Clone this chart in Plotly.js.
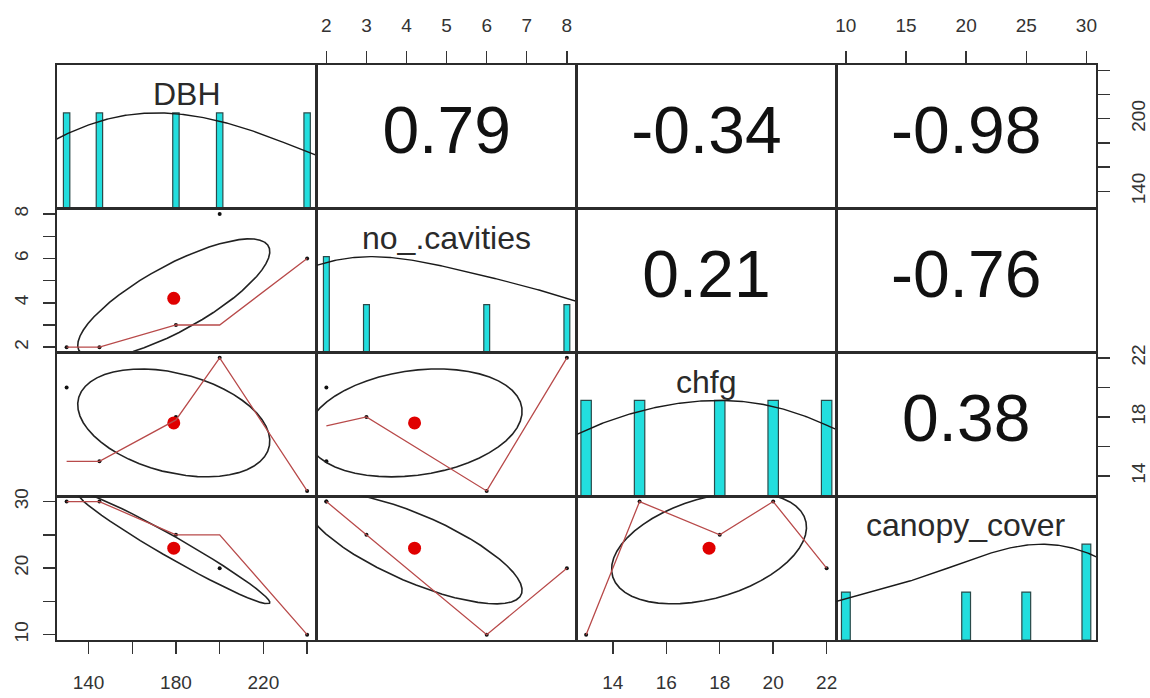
<!DOCTYPE html>
<html><head><meta charset="utf-8">
<script src="https://cdn.plot.ly/plotly-3.0.1.min.js"></script>
<style>html,body{margin:0;padding:0;background:#fff}#chart{width:1150px;height:698px}</style>
</head><body><div id="chart"></div>
<script>
// ---- data ----
const varNames = ['DBH', 'no_.cavities', 'chfg', 'canopy_cover'];
const DBH = [130, 145, 180, 200, 240];
const noCavities = [2, 2, 3, 8, 6];
const chfg = [20, 15, 18, 22, 13];
const canopyCover = [30, 30, 25, 20, 10];
// correlations shown in the upper panels: (1,2),(1,3),(1,4),(2,3),(2,4),(3,4)
const corrLabels = ['0.79', '-0.34', '-0.98', '0.21', '-0.76', '0.38'];
// red smoother values, ordered by increasing x
const smoothDBH_cav = [2, 2, 3, 3, 6];
const smoothDBH_chfg = [15, 15, 17.8, 22, 13];
const smoothCav_chfg = [17.4, 17.4, 18, 13, 22];
const smoothDBH_canopy = [30, 30, 25, 25, 10];
const smoothCav_canopy = [30, 30, 25, 10, 20];
const smoothChfg_canopy = [10, 30, 25, 30, 20];
// tick marks and labels
const ticksDBH = [140, 160, 180, 200, 220, 240];
const ticksCav = [2, 3, 4, 5, 6, 7, 8];
const ticksChfg = [14, 16, 18, 20, 22];
const ticksCanopy = [10, 15, 20, 25, 30];
const labelsDBH_bottom = ['140', '', '180', '', '220', ''];
const labelsDBH_right = ['140', '', '', '200', '', ''];
const labelsCav_top = ['2', '3', '4', '5', '6', '7', '8'];
const labelsCav_left = ['2', '', '4', '', '6', '', '8'];
const labelsChfg_bottom = ['14', '16', '18', '20', '22'];
const labelsChfg_right = ['14', '', '18', '', '22'];
const labelsCanopy_top = ['10', '15', '20', '25', '30'];
const labelsCanopy_left = ['10', '', '20', '', '30'];

// ---- helpers ----
const vars = [DBH, noCavities, chfg, canopyCover];
const FONT = '"Liberation Sans", Arial, Helvetica, sans-serif';
const mean = a => a.reduce((s, v) => s + v, 0) / a.length;
const sd = a => { const m = mean(a); return Math.sqrt(a.reduce((s, v) => s + (v - m) * (v - m), 0) / (a.length - 1)); };
const cor = (a, b) => { const ma = mean(a), mb = mean(b); let sab = 0, saa = 0, sbb = 0;
  for (let i = 0; i < a.length; i++) { sab += (a[i] - ma) * (b[i] - mb); saa += (a[i] - ma) ** 2; sbb += (b[i] - mb) ** 2; }
  return sab / Math.sqrt(saa * sbb); };
const quant = (a, p) => { const s = [...a].sort((x, y) => x - y); const h = (s.length - 1) * p; const lo = Math.floor(h); return s[lo] + (h - lo) * ((s[lo + 1] ?? s[lo]) - s[lo]); };
const bwNrd = a => { const h = (quant(a, 0.75) - quant(a, 0.25)) / 1.34; return 1.06 * Math.min(sd(a), h) * Math.pow(a.length, -0.2); };
const ext = a => { const mn = Math.min(...a), mx = Math.max(...a), d = 0.04 * (mx - mn); return [mn - d, mx + d]; };
const sortedX = a => [...a].sort((x, y) => x - y);

const smooth = {};
smooth['1,0'] = smoothDBH_cav; smooth['2,0'] = smoothDBH_chfg; smooth['2,1'] = smoothCav_chfg;
smooth['3,0'] = smoothDBH_canopy; smooth['3,1'] = smoothCav_canopy; smooth['3,2'] = smoothChfg_canopy;
const corrIdx = {'0,1': 0, '0,2': 1, '0,3': 2, '1,2': 3, '1,3': 4, '2,3': 5};

const axTicks = [
  {vals: ticksDBH, lab: {bottom: labelsDBH_bottom, right: labelsDBH_right}},
  {vals: ticksCav, lab: {top: labelsCav_top, left: labelsCav_left}},
  {vals: ticksChfg, lab: {bottom: labelsChfg_bottom, right: labelsChfg_right}},
  {vals: ticksCanopy, lab: {top: labelsCanopy_top, left: labelsCanopy_left}}
];

const traces = [];
const layout = {
  width: 1150, height: 698,
  margin: {l: 57, r: 54, t: 65, b: 58, pad: 0},
  paper_bgcolor: '#fff', plot_bgcolor: '#fff',
  showlegend: false, hovermode: false,
  font: {family: FONT, color: '#222'},
  annotations: []
};

const N = 4;
for (let i = 0; i < N; i++) {
  for (let j = 0; j < N; j++) {
    const k = i * N + j + 1;
    const xs = k === 1 ? '' : String(k);
    const xa = 'x' + xs, ya = 'y' + xs;
    const xRange = ext(vars[j]);
    const yRange = i === j ? [0, 1.5] : ext(vars[i]);

    const xaxis = {
      domain: [j / N, (j + 1) / N], range: xRange, anchor: ya,
      showgrid: false, zeroline: false, showline: true, mirror: true,
      linecolor: '#2b2b2b', linewidth: 1.6, ticks: '', showticklabels: false, fixedrange: true
    };
    const yaxis = {
      domain: [1 - (i + 1) / N, 1 - i / N], range: yRange, anchor: xa,
      showgrid: false, zeroline: false, showline: true, mirror: true,
      linecolor: '#2b2b2b', linewidth: 1.6, ticks: '', showticklabels: false, fixedrange: true
    };
    const tickStyle = {ticks: 'outside', ticklen: 12, tickwidth: 1.4, tickcolor: '#333',
      showticklabels: true, tickfont: {family: FONT, size: 19, color: '#333'}, tickmode: 'array'};
    if (i === 0 && (j === 1 || j === 3)) {
      Object.assign(xaxis, tickStyle, {side: 'top', tickvals: axTicks[j].vals, ticktext: axTicks[j].lab.top, ticklabelstandoff: 12});
    }
    if (i === N - 1 && (j === 0 || j === 2)) {
      Object.assign(xaxis, tickStyle, {side: 'bottom', tickvals: axTicks[j].vals, ticktext: axTicks[j].lab.bottom, ticklabelstandoff: 13});
    }
    if (j === N - 1 && (i === 0 || i === 2)) {
      Object.assign(yaxis, tickStyle, {side: 'right', tickvals: axTicks[i].vals, ticktext: axTicks[i].lab.right, tickangle: -90, ticklabelstandoff: 13});
    }
    if (j === 0 && (i === 1 || i === 3)) {
      Object.assign(yaxis, tickStyle, {side: 'left', tickvals: axTicks[i].vals, ticktext: axTicks[i].lab.left, tickangle: -90, ticklabelstandoff: 8});
    }
    layout['xaxis' + xs] = xaxis;
    layout['yaxis' + xs] = yaxis;

    if (i === j) {
      // histogram bars (counts / max) and scaled density
      const v = vars[i];
      const uniq = sortedX([...new Set(v)]);
      const counts = uniq.map(u => v.filter(t => t === u).length);
      const mx = Math.max(...counts);
      let minDiff = Infinity;
      for (let q = 1; q < uniq.length; q++) minDiff = Math.min(minDiff, uniq[q] - uniq[q - 1]);
      const inter = minDiff * (uniq.length - 1) / 41;
      traces.push({type: 'bar', x: uniq, y: counts.map(c => c / mx), width: uniq.map(() => 2 * inter),
        xaxis: xa, yaxis: ya, marker: {color: '#22dede', line: {color: '#2a4a4a', width: 1.2}}, hoverinfo: 'skip'});
      const bw = 1.2 * bwNrd(v);
      const lo = Math.min(...v) - 3 * bw, hi = Math.max(...v) + 3 * bw;
      const gx = [], gy = [];
      for (let g = 0; g < 512; g++) {
        const x = lo + (hi - lo) * g / 511;
        let s = 0; v.forEach(t => { s += Math.exp(-0.5 * ((x - t) / bw) ** 2); });
        gx.push(x); gy.push(s);
      }
      const gmax = Math.max(...gy);
      traces.push({type: 'scatter', mode: 'lines', x: gx, y: gy.map(t => t / gmax), xaxis: xa, yaxis: ya,
        line: {color: '#1a1a1a', width: 1.4}, hoverinfo: 'skip'});
      layout.annotations.push({xref: 'paper', yref: 'paper', x: (j + 0.5) / N, y: 1 - i / N - 29 / 575,
        xanchor: 'center', yanchor: 'middle', text: varNames[i], showarrow: false,
        font: {family: FONT, size: 32, color: '#2a2a2a'}});
    } else if (i > j) {
      const xv = vars[j], yv = vars[i];
      traces.push({type: 'scatter', mode: 'markers', x: xv, y: yv, xaxis: xa, yaxis: ya,
        marker: {color: '#111', size: 4}, hoverinfo: 'skip', cliponaxis: false});
      const xm = mean(xv), ym = mean(yv), sx = sd(xv), sy = sd(yv), r = cor(xv, yv);
      traces.push({type: 'scatter', mode: 'markers', x: [xm], y: [ym], xaxis: xa, yaxis: ya,
        marker: {color: '#e00000', size: 13}, hoverinfo: 'skip'});
      const th = (Math.abs(r) > 0 ? Math.sign(r) : 1) / Math.SQRT2;
      const a = Math.sqrt(1 + r), b = Math.sqrt(1 - r);
      const ex = [], ey = [];
      for (let s = 0; s <= 51; s++) {
        const ang = s * 2 * Math.PI / 51, c = Math.cos(ang), si = Math.sin(ang);
        ex.push((c * a * th - si * b * th) * sx + xm);
        ey.push((c * a * th + si * b * th) * sy + ym);
      }
      traces.push({type: 'scatter', mode: 'lines', x: ex, y: ey, xaxis: xa, yaxis: ya,
        line: {color: '#222', width: 1.6}, hoverinfo: 'skip'});
      traces.push({type: 'scatter', mode: 'lines', x: sortedX(xv), y: smooth[i + ',' + j], xaxis: xa, yaxis: ya,
        line: {color: '#b84a4a', width: 1.3}, hoverinfo: 'skip'});
    } else {
      traces.push({type: 'scatter', mode: 'text', x: [(xRange[0] + xRange[1]) / 2], y: [(yRange[0] + yRange[1]) / 2],
        text: [corrLabels[corrIdx[i + ',' + j]]], textposition: 'middle center', xaxis: xa, yaxis: ya,
        textfont: {family: FONT, size: 66, color: '#111'}, hoverinfo: 'skip', cliponaxis: false});
    }
  }
}

Plotly.newPlot('chart', traces, layout, {displayModeBar: false, staticPlot: true});
</script></body></html>
